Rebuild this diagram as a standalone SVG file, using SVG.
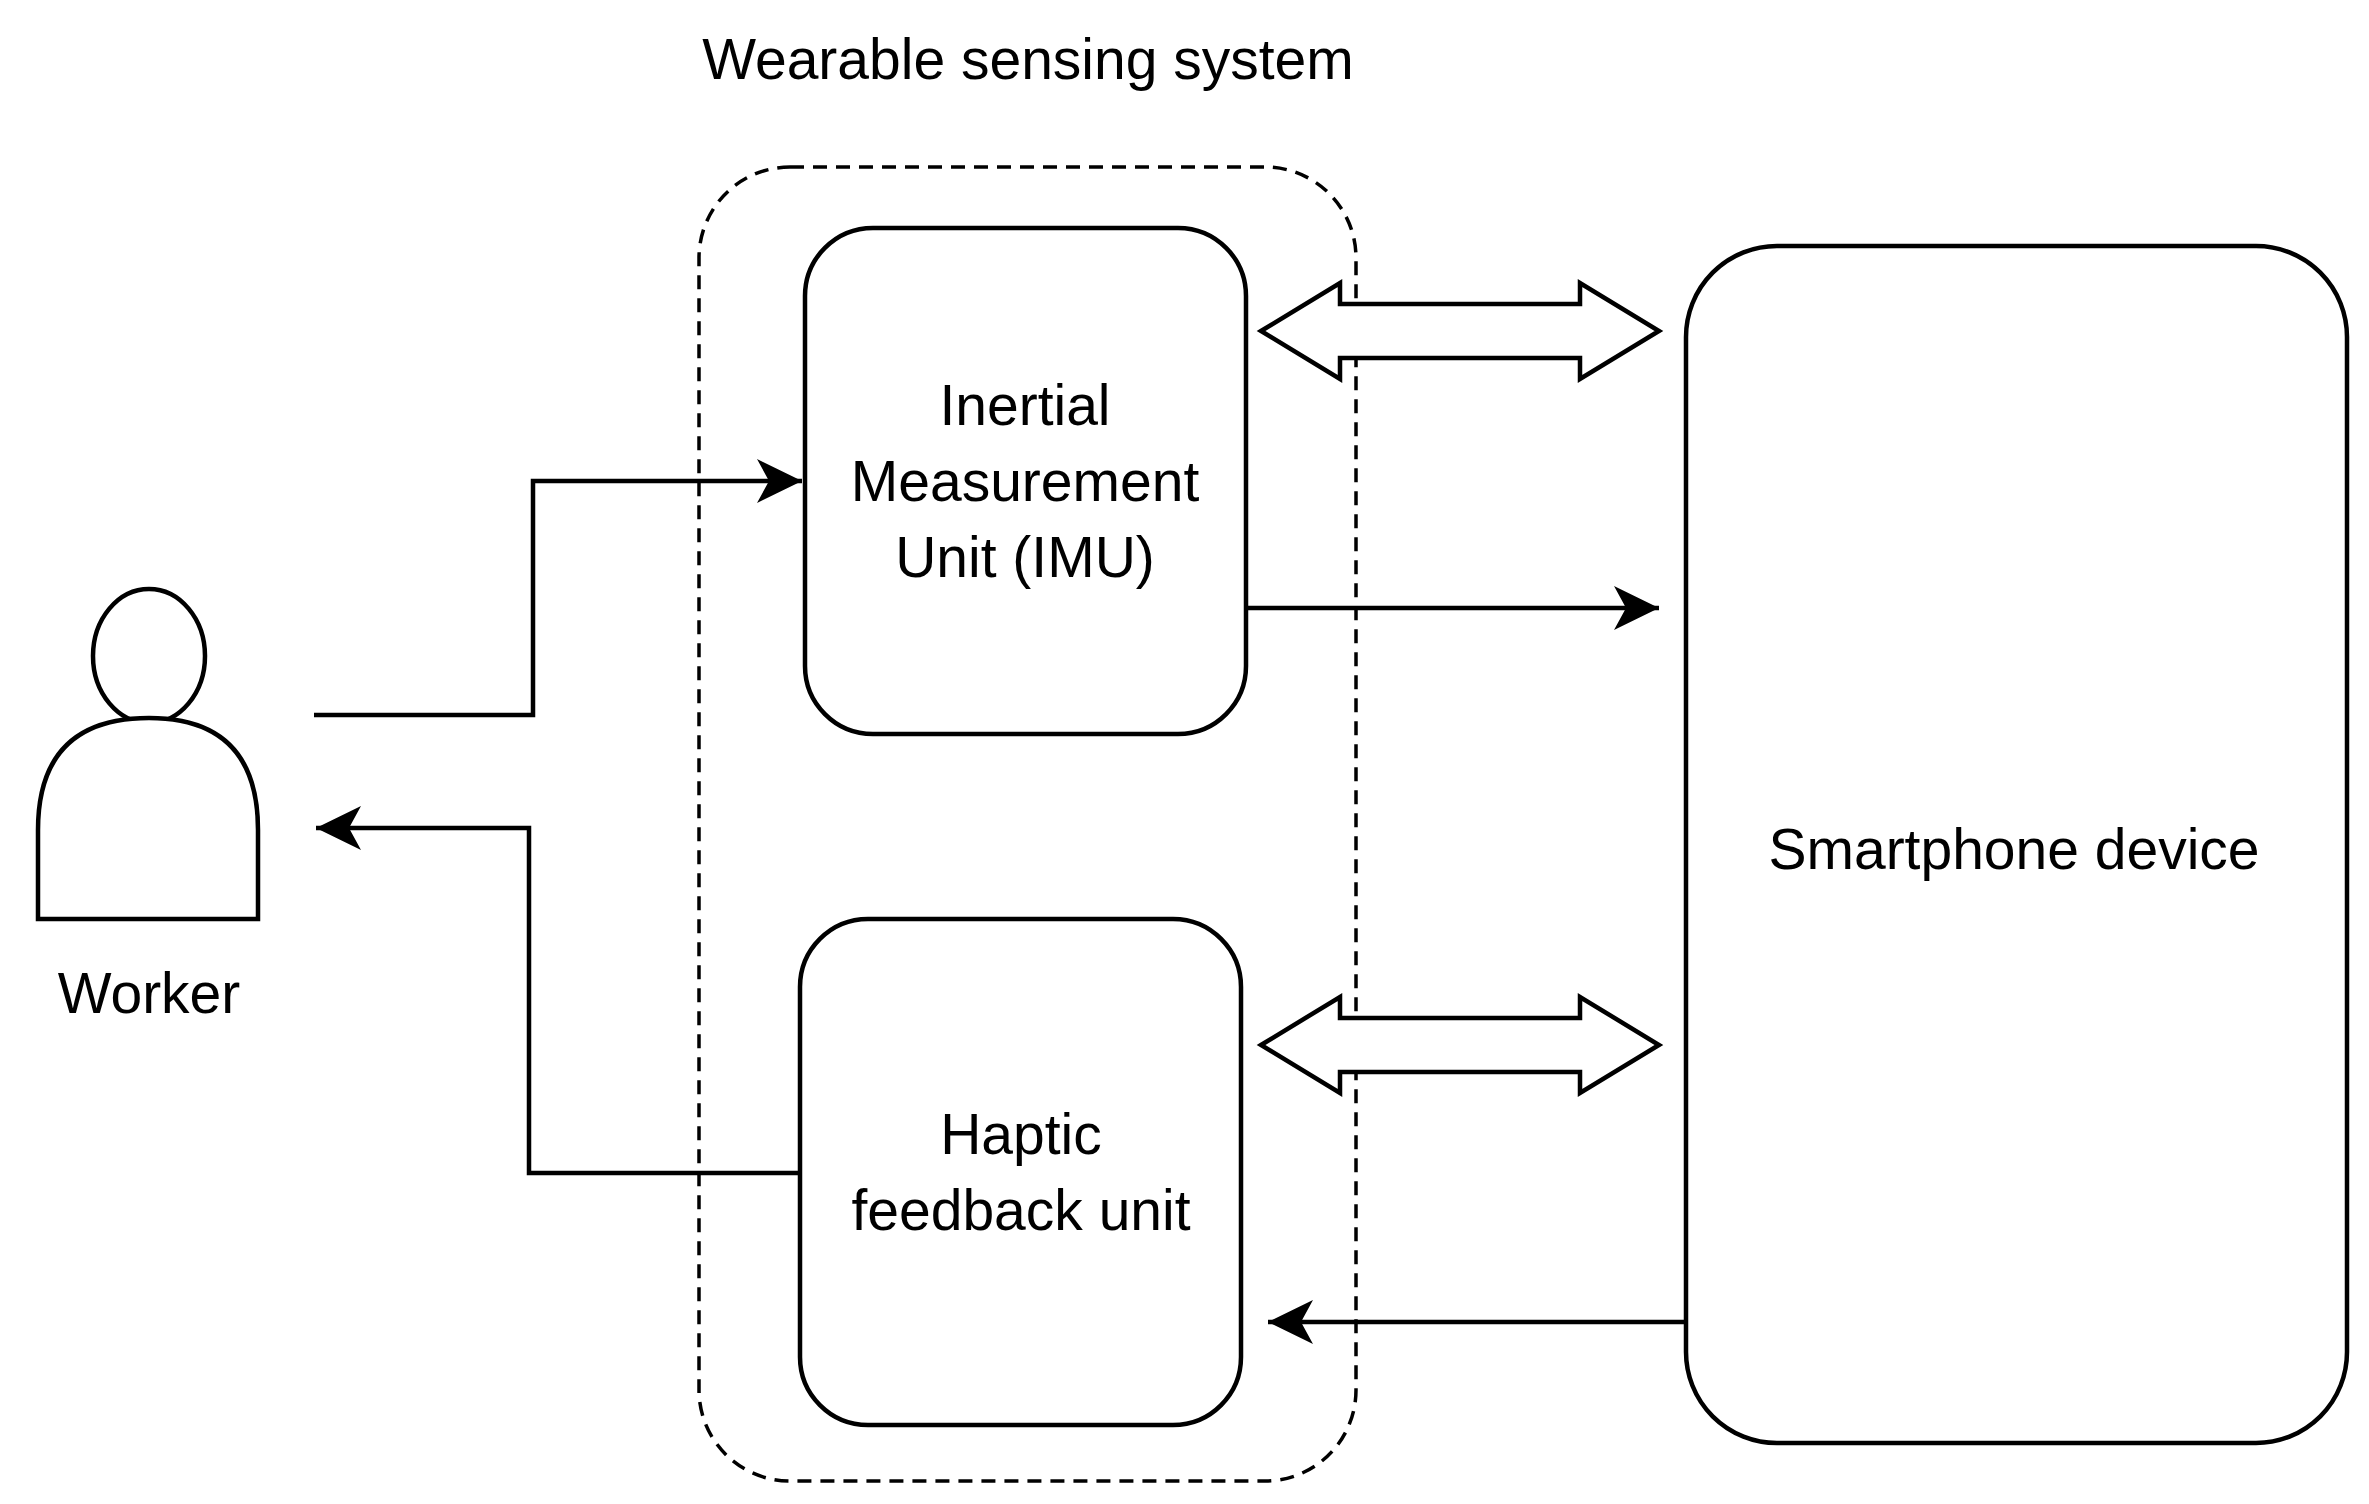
<svg xmlns="http://www.w3.org/2000/svg" width="2369" height="1504" viewBox="0 0 2369 1504">
<style>
.s{fill:#fff;stroke:#000;stroke-width:4.5}
.t{font-family:"Liberation Sans",Arial,sans-serif;font-size:57px;fill:#000;text-anchor:middle}
.c{fill:none;stroke:#000;stroke-width:4.5}
</style>
<defs>
<marker id="a" markerUnits="userSpaceOnUse" markerWidth="50" markerHeight="50" refX="45" refY="25" orient="auto">
<path d="M0,3 L45,25 L0,47 L12,25 Z" fill="#000"/>
</marker>
</defs>
<rect width="2369" height="1504" fill="#fff"/>
<g id="title"><text class="t" x="1028" y="79">Wearable sensing system</text></g>
<g id="group"><rect x="699" y="167" width="657" height="1314" rx="91" fill="none" stroke="#000" stroke-width="3.5" stroke-dasharray="14,9"/></g>
<g id="imu"><rect class="s" x="805" y="228" width="441" height="506" rx="68"/>
<text class="t" x="1025" y="425">Inertial</text><text class="t" x="1025" y="501">Measurement</text><text class="t" x="1025" y="577">Unit (IMU)</text></g>
<g id="haptic"><rect class="s" x="800" y="919" width="441" height="506" rx="68"/>
<text class="t" x="1021" y="1154">Haptic</text><text class="t" x="1021" y="1230">feedback unit</text></g>
<g id="phone"><rect class="s" x="1686" y="246" width="661" height="1197" rx="91"/>
<text class="t" x="2014" y="869">Smartphone device</text></g>
<g id="worker"><ellipse class="s" cx="149" cy="656" rx="56" ry="67"/>
<path class="s" d="M38,919 L38,830 Q38,718 149,718 Q258,718 258,830 L258,919 Z"/>
<text class="t" x="149" y="1013">Worker</text></g>
<g id="connectors">
<path class="c" d="M314,715 H533 V481 H802" marker-end="url(#a)"/>
<path class="c" d="M800,1173 H529 V828 H316" marker-end="url(#a)"/>
<path class="c" d="M1246,608 H1659" marker-end="url(#a)"/>
<path class="c" d="M1686,1322 H1268" marker-end="url(#a)"/>
<path class="s" d="M1261,331 L1340,283 L1340,304 L1580,304 L1580,283 L1659,331 L1580,379 L1580,358 L1340,358 L1340,379 Z"/>
<path class="s" d="M1261,1045 L1340,997 L1340,1018 L1580,1018 L1580,997 L1659,1045 L1580,1093 L1580,1072 L1340,1072 L1340,1093 Z"/>
</g>
</svg>
